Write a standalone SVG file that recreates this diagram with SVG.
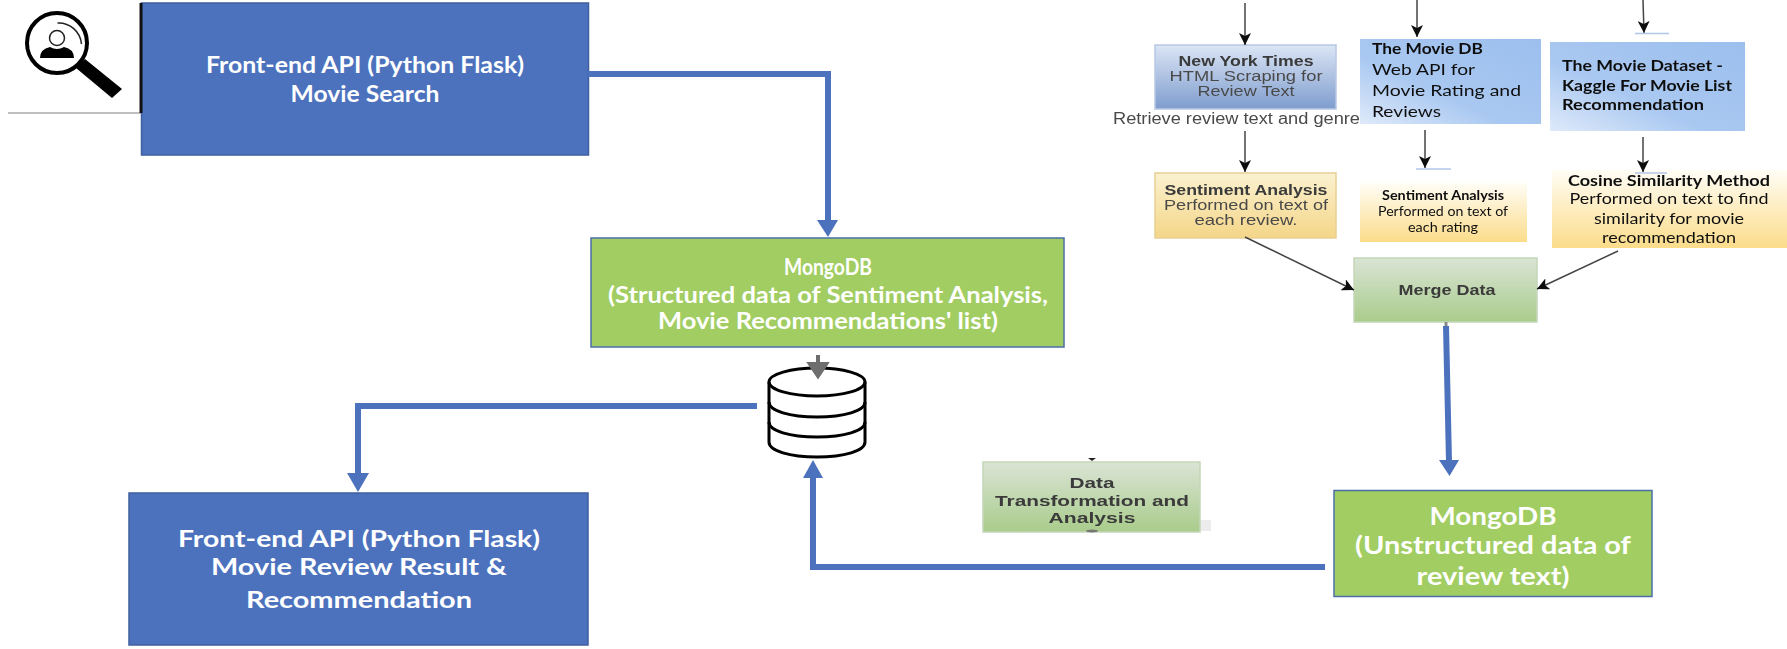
<svg xmlns="http://www.w3.org/2000/svg" width="1787" height="649" viewBox="0 0 1787 649">
<style>
text{text-anchor:middle;font-family:Lato,"Open Sans",sans-serif;font-weight:700;fill:#fff;}
.big{font-size:23px;}
.lg{font-size:24px;}
.lib{font-family:"Liberation Sans",Arial,sans-serif;font-size:15px;fill:#4a4a4a;font-weight:400;}
.libb{font-family:"Liberation Sans",Arial,sans-serif;font-size:15px;fill:#3a3a3a;font-weight:700;}
.dk{font-size:16px;fill:#111;font-weight:400;text-anchor:start;}
.dkb{font-size:16px;fill:#111;font-weight:700;text-anchor:start;}
.sm{font-size:13px;fill:#111;font-weight:400;}
.smb{font-size:13px;fill:#111;font-weight:700;}
.blue{fill:#4c72be;stroke:#3f5f9f;stroke-width:1.5;}
.green{fill:#a1cd62;stroke:#4a6fa8;stroke-width:1.5;}
.flow{fill:none;stroke:#4c72be;stroke-width:6;}
.head{fill:#4c72be;}
.thin{fill:none;stroke:#444;stroke-width:1.5;}
.tick{stroke:#b4c6e7;stroke-width:1.5;}
.db{fill:none;stroke:#000;stroke-width:3;}
</style>
<defs>
<linearGradient id="gNyt" x1="0" y1="0" x2="0" y2="1"><stop offset="0" stop-color="#dbe5f5"/><stop offset="1" stop-color="#7f9dce"/></linearGradient>
<linearGradient id="gSent" x1="0" y1="0" x2="0" y2="1"><stop offset="0" stop-color="#fbf1d0"/><stop offset="1" stop-color="#f4d688"/></linearGradient>
<linearGradient id="gYel" x1="0" y1="0" x2="0" y2="1"><stop offset="0" stop-color="#fffdf6"/><stop offset="1" stop-color="#fbdc8a"/></linearGradient>
<linearGradient id="gApi" x1="0" y1="1" x2="1" y2="0"><stop offset="0" stop-color="#dfeafa"/><stop offset="0.4" stop-color="#a9c8f1"/><stop offset="1" stop-color="#9cbfee"/></linearGradient>
<linearGradient id="gMerge" x1="0" y1="0" x2="0" y2="1"><stop offset="0" stop-color="#dae4d5"/><stop offset="1" stop-color="#a9cc8b"/></linearGradient>
<marker id="mBlack" markerUnits="userSpaceOnUse" markerWidth="14" markerHeight="12" refX="12" refY="6" orient="auto"><path d="M0 0L12 6L0 12L3 6Z" fill="#111"/></marker>
<filter id="soft" x="-5%" y="-5%" width="110%" height="110%"><feGaussianBlur stdDeviation="0.6"/></filter>
</defs>

<g id="search-icon">
<line x1="8" y1="113" x2="141" y2="113" stroke="#aaa" stroke-width="1.5"/>
<circle cx="57" cy="43" r="30" fill="none" stroke="#000" stroke-width="4"/>
<path d="M57.500 23A23 23 0 0 1 81.500 44" fill="none" stroke="#222" stroke-width="1.500"/>
<polygon points="76,68 85,59 122,89 112,98" fill="#000"/>
<circle cx="57" cy="38" r="7.500" fill="#fff" stroke="#222" stroke-width="1.500"/>
<path d="M40 58Q40 49 50 47Q57 51 64 47Q74 49 74 58Z" fill="#000"/>
</g>

<g id="api-search">
<rect class="blue" x="141.500" y="3" width="447" height="152"/>
<line x1="141" y1="3" x2="141" y2="113" stroke="#111" stroke-width="3"/>
<text class="big" x="365" y="73" textLength="318" lengthAdjust="spacingAndGlyphs">Front-end API (Python Flask)</text>
<text class="big" x="365" y="102" textLength="149" lengthAdjust="spacingAndGlyphs">Movie Search</text>
</g>

<g id="mongo-structured">
<rect class="green" x="591" y="238" width="473" height="109"/>
<text class="big" x="828" y="275" textLength="88" lengthAdjust="spacingAndGlyphs">MongoDB</text>
<text class="big" x="828" y="303" textLength="440" lengthAdjust="spacingAndGlyphs">(Structured data of Sentiment Analysis,</text>
<text class="big" x="828" y="329" textLength="340" lengthAdjust="spacingAndGlyphs">Movie Recommendations' list)</text>
</g>

<g id="database">
<ellipse class="db" cx="817" cy="382" rx="48" ry="14"/>
<path class="db" d="M769 382V442C769 451 790 457 817 457C844 457 865 451 865 442V382"/>
<path class="db" d="M769 402C769 411 790 417 817 417C844 417 865 411 865 402"/>
<path class="db" d="M769 422C769 431 790 437 817 437C844 437 865 431 865 422"/>
</g>

<g id="api-result">
<rect class="blue" x="129" y="493" width="459" height="152"/>
<text class="big" x="359" y="547" textLength="362" lengthAdjust="spacingAndGlyphs">Front-end API (Python Flask)</text>
<text class="big" x="359" y="575" textLength="296" lengthAdjust="spacingAndGlyphs">Movie Review Result &amp;</text>
<text class="big" x="359" y="608" textLength="226" lengthAdjust="spacingAndGlyphs">Recommendation</text>
</g>

<g id="mongo-unstructured">
<rect class="green" x="1334" y="490.500" width="318" height="106"/>
<text class="lg" x="1493" y="525" textLength="127" lengthAdjust="spacingAndGlyphs">MongoDB</text>
<text class="lg" x="1493" y="554" textLength="276" lengthAdjust="spacingAndGlyphs">(Unstructured data of</text>
<text class="lg" x="1493" y="585" textLength="153" lengthAdjust="spacingAndGlyphs">review text)</text>
</g>

<g id="retrieve-label" filter="url(#soft)">
<text class="lib" x="1113" y="124" textLength="247" lengthAdjust="spacingAndGlyphs" style="text-anchor:start;font-size:16px">Retrieve review text and genre</text>
</g>

<g id="nyt" filter="url(#soft)">
<rect x="1155" y="45" width="181" height="64" fill="url(#gNyt)" stroke="#b8c8e4" stroke-width="1.500"/>
<text class="libb" x="1246" y="66" textLength="135" lengthAdjust="spacingAndGlyphs">New York Times</text>
<text class="lib" x="1246" y="81" textLength="153" lengthAdjust="spacingAndGlyphs">HTML Scraping for</text>
<text class="lib" x="1246" y="96" textLength="97" lengthAdjust="spacingAndGlyphs">Review Text</text>
</g>

<g id="tmdb" filter="url(#soft)">
<rect x="1360" y="39" width="181" height="85" fill="url(#gApi)"/>
<text class="dkb" x="1372" y="54" textLength="111" lengthAdjust="spacingAndGlyphs">The Movie DB</text>
<text class="dk" x="1372" y="75" textLength="103" lengthAdjust="spacingAndGlyphs">Web API for</text>
<text class="dk" x="1372" y="96" textLength="149" lengthAdjust="spacingAndGlyphs">Movie Rating and</text>
<text class="dk" x="1372" y="117" textLength="69" lengthAdjust="spacingAndGlyphs">Reviews</text>
</g>

<g id="kaggle" filter="url(#soft)">
<rect x="1550" y="42" width="195" height="89" fill="url(#gApi)"/>
<text class="dkb" x="1562" y="71" textLength="161" lengthAdjust="spacingAndGlyphs">The Movie Dataset -</text>
<text class="dkb" x="1562" y="91" textLength="170" lengthAdjust="spacingAndGlyphs">Kaggle For Movie List</text>
<text class="dkb" x="1562" y="110" textLength="142" lengthAdjust="spacingAndGlyphs">Recommendation</text>
</g>

<g id="sentiment-review" filter="url(#soft)">
<rect x="1155" y="173" width="181" height="65" fill="url(#gSent)" stroke="#e8cf94" stroke-width="1.500"/>
<text class="libb" x="1246" y="195" textLength="163" lengthAdjust="spacingAndGlyphs">Sentiment Analysis</text>
<text class="lib" x="1246" y="210" textLength="164" lengthAdjust="spacingAndGlyphs">Performed on text of</text>
<text class="lib" x="1246" y="225" textLength="103" lengthAdjust="spacingAndGlyphs">each review.</text>
</g>

<g id="sentiment-rating" filter="url(#soft)">
<rect x="1360" y="183" width="167" height="59" fill="url(#gYel)"/>
<text class="smb" x="1443" y="200" textLength="122" lengthAdjust="spacingAndGlyphs">Sentiment Analysis</text>
<text class="sm" x="1443" y="216" textLength="130" lengthAdjust="spacingAndGlyphs">Performed on text of</text>
<text class="sm" x="1443" y="232" textLength="70" lengthAdjust="spacingAndGlyphs">each rating</text>
</g>

<g id="cosine" filter="url(#soft)">
<rect x="1552" y="170" width="235" height="78" fill="url(#gYel)"/>
<text class="dkb" x="1669" y="186" textLength="202" lengthAdjust="spacingAndGlyphs" style="text-anchor:middle">Cosine Similarity Method</text>
<text class="dk" x="1669" y="204" textLength="199" lengthAdjust="spacingAndGlyphs" style="text-anchor:middle">Performed on text to find</text>
<text class="dk" x="1669" y="224" textLength="150" lengthAdjust="spacingAndGlyphs" style="text-anchor:middle">similarity for movie</text>
<text class="dk" x="1669" y="243" textLength="134" lengthAdjust="spacingAndGlyphs" style="text-anchor:middle">recommendation</text>
</g>

<g id="merge" filter="url(#soft)">
<rect x="1354" y="258" width="183" height="64" fill="url(#gMerge)" stroke="#c4d6b8" stroke-width="1.500"/>
<text class="libb" x="1447" y="295" textLength="97" lengthAdjust="spacingAndGlyphs">Merge Data</text>
</g>

<g id="transform" filter="url(#soft)">
<rect x="1200" y="520" width="11" height="11" fill="#ececec"/>
<rect x="983" y="462" width="217" height="70" fill="url(#gMerge)" stroke="#c4d6b8" stroke-width="1.500"/>
<text class="libb" x="1092" y="488" textLength="45" lengthAdjust="spacingAndGlyphs">Data</text>
<text class="libb" x="1092" y="506" textLength="194" lengthAdjust="spacingAndGlyphs">Transformation and</text>
<text class="libb" x="1092" y="523" textLength="87" lengthAdjust="spacingAndGlyphs">Analysis</text>
<polygon points="1088,458 1096,458 1092,461" fill="#222"/>
<ellipse cx="1092" cy="531" rx="6" ry="1.500" fill="#777"/>
</g>

<g id="connectors">
<path class="flow" d="M588 74H828V222"/>
<polygon class="head" points="817,220 838,220 828,237"/>
<path class="flow" d="M757 406H358V475"/>
<polygon class="head" points="347,473 369,473 358,492"/>
<path class="flow" d="M1325 567H813V474"/>
<polygon class="head" points="803,478 823,478 813,460"/>
<path class="flow" d="M1446 326L1449 462"/>
<polygon class="head" points="1439,460 1459,460 1449.500,476"/>
<line x1="1446" y1="322" x2="1446" y2="326" stroke="#888" stroke-width="3"/>
<g filter="url(#soft)">
<line class="thin" x1="1245" y1="3" x2="1245" y2="45" marker-end="url(#mBlack)"/>
<line class="thin" x1="1245" y1="131" x2="1245" y2="172" marker-end="url(#mBlack)"/>
<line class="thin" x1="1417" y1="0" x2="1417" y2="37" marker-end="url(#mBlack)"/>
<line class="thin" x1="1425" y1="130" x2="1425" y2="168" marker-end="url(#mBlack)"/>
<line class="tick" x1="1416" y1="169" x2="1451" y2="169"/>
<line class="thin" x1="1643" y1="0" x2="1644" y2="33" marker-end="url(#mBlack)"/>
<line class="tick" x1="1635" y1="33.500" x2="1669" y2="33.500"/>
<line class="thin" x1="1643" y1="137" x2="1643" y2="172" marker-end="url(#mBlack)"/>
<line class="tick" x1="1635" y1="173" x2="1667" y2="173"/>
<line class="thin" x1="1245" y1="237" x2="1354" y2="290" marker-end="url(#mBlack)"/>
<line class="thin" x1="1618" y1="251" x2="1537" y2="289" marker-end="url(#mBlack)"/>
</g>
<path d="M818 355V364M810 364H826L818 376Z" fill="#6e6e6e" stroke="#6e6e6e" stroke-width="4" stroke-linejoin="miter"/>
</g>
</svg>
